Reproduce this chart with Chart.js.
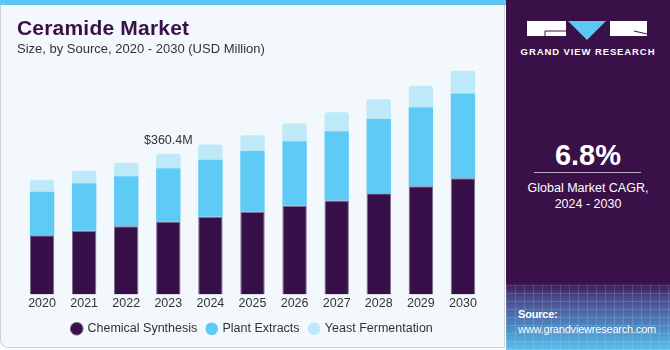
<!DOCTYPE html>
<html>
<head>
<meta charset="utf-8">
<script src="https://cdn.jsdelivr.net/npm/chart.js@4.4.0/dist/chart.umd.min.js"></script>
<style>
  body { margin: 0; width: 670px; height: 350px; overflow: hidden; font-family: "Liberation Sans", Arial, sans-serif; background: #fff; }
  #left { position: absolute; left: 0; top: 0; width: 505px; height: 348px; background: #f3f8fc; border: 1px solid #cfd3d6; border-top: none; border-radius: 0 0 0 8px; box-sizing: border-box; }
  #stripe { position: absolute; left: 0; top: 0; width: 506px; height: 5px; background: #5cc7f2; }
  #title { position: absolute; left: 17px; top: 16px; font-size: 21px; font-weight: bold; color: #3a1048; letter-spacing: 0.2px; }
  #subtitle { position: absolute; left: 17px; top: 41px; font-size: 13px; color: #333; }
  #chartBox { position: absolute; left: 0; top: 0; width: 506px; height: 350px; }
  #right { position: absolute; left: 506px; top: 0; width: 164px; height: 350px; background: linear-gradient(to bottom, #3a1048 0px, #3a1048 282px, #4a4585 296px, #4f8fc8 330px, #5cc0ee 350px); overflow: hidden; }
  #grid { position: absolute; left: 0; top: 284px; width: 164px; height: 66px; opacity: 0.18;
    background-image: repeating-linear-gradient(90deg, rgba(255,255,255,0.8) 0 1px, transparent 1px 9px), repeating-linear-gradient(0deg, rgba(255,255,255,0.8) 0 1px, transparent 1px 8px); }
  .rt { position: absolute; color: #fff; width: 164px; text-align: center; }
</style>
</head>
<body>
<div id="left"></div>
<div id="stripe"></div>
<div id="chartBox"><canvas id="chartCanvas" width="506" height="350"></canvas></div>
<div id="title">Ceramide Market</div>
<div id="subtitle">Size, by Source, 2020 - 2030 (USD Million)</div>

<div id="right">
  <div id="grid"></div>
  <svg style="position:absolute;left:0;top:0" width="164" height="60">
    <rect x="21" y="21" width="39" height="15" fill="#fff"/>
    <polyline points="60,31 39,31 39,36" fill="none" stroke="#3a1048" stroke-width="1"/>
    <polygon points="62,21 100,21 81,40" fill="#5cc7f2"/>
    <rect x="104" y="21" width="37" height="15" fill="#fff"/>
    <line x1="128" y1="31" x2="141" y2="34" stroke="#3a1048" stroke-width="1"/>
  </svg>
  <div class="rt" style="top:46px;font-size:9.5px;font-weight:bold;letter-spacing:0.9px;">GRAND VIEW RESEARCH</div>
  <div class="rt" style="top:139px;font-size:29px;font-weight:bold;">6.8%</div>
  <div style="position:absolute;left:28px;top:172px;width:107px;height:1px;background:#b9a8c4;"></div>
  <div class="rt" style="top:180px;font-size:12.5px;line-height:16px;">Global Market CAGR,<br>2024 - 2030</div>
  <div style="position:absolute;left:12px;top:307px;color:#fff;font-size:11px;line-height:15px;letter-spacing:-0.2px;"><b>Source:</b><br>www.grandviewresearch.com</div>
</div>

<script>
const years = ['2020', '2021', '2022', '2023', '2024', '2025', '2026', '2027', '2028', '2029', '2030'];
const chemicalSynthesis = [151.4, 163.3, 174.7, 186.5, 198.7, 211.6, 227.0, 240.7, 258.8, 276.8, 297.5];
const plantExtracts = [111.7, 121.3, 128.0, 136.7, 146.3, 155.6, 165.1, 177.2, 190.1, 202.3, 216.7];
const yeastFermentation = [30.2, 32.0, 34.6, 37.2, 38.7, 40.5, 45.7, 48.2, 50.8, 55.0, 58.6];
const labelYear = '2023';
const labelText = '$360.4M';

// texte au-dessus de la barre 2023
const totalLabel = {
  id: 'totalLabel',
  afterDatasetsDraw(chart) {
    const i = years.indexOf(labelYear);
    let total = 0;
    chart.data.datasets.forEach(d => { total += d.data[i]; });
    const x = chart.scales.x.getPixelForValue(i);
    const y = chart.scales.y.getPixelForValue(total);
    const ctx = chart.ctx;
    ctx.save();
    ctx.font = '12.5px "Liberation Sans", Arial, sans-serif';
    ctx.fillStyle = '#333';
    ctx.textAlign = 'center';
    ctx.textBaseline = 'bottom';
    ctx.fillText(labelText, x, y - 7);
    ctx.restore();
  }
};

document.addEventListener('DOMContentLoaded', function() {
  const data = {
    labels: years,
    datasets: [
      {
        label: 'Chemical Synthesis',
        data: chemicalSynthesis,
        backgroundColor: '#371049',
        borderColor: '#7d6a8c',
        borderWidth: 1
      },
      {
        label: 'Plant Extracts',
        data: plantExtracts,
        backgroundColor: '#5ecbf7',
        borderColor: '#5ecbf7',
        borderWidth: 0
      },
      {
        label: 'Yeast Fermentation',
        data: yeastFermentation,
        backgroundColor: '#bde9f9',
        borderColor: '#bde9f9',
        borderWidth: 0,
        borderRadius: { topLeft: 3, topRight: 3 },
        borderSkipped: 'bottom'
      }
    ]
  };

  const config = {
    type: 'bar',
    data: data,
    options: {
      responsive: false,
      animation: false,
      layout: { padding: { top: 60, left: 21, right: 22, bottom: 5 } },
      datasets: { bar: { categoryPercentage: 1.0, barPercentage: 0.58 } },
      scales: {
        x: {
          stacked: true,
          grid: { display: false, drawTicks: false },
          border: { display: false },
          ticks: { color: '#333', font: { size: 12.5, family: '"Liberation Sans", Arial, sans-serif' }, padding: 1.5, maxRotation: 0 }
        },
        y: {
          stacked: true,
          display: false,
          min: 0,
          max: 600
        }
      },
      plugins: {
        legend: {
          position: 'bottom',
          labels: {
            usePointStyle: true,
            pointStyle: 'circle',
            boxWidth: 9,
            boxHeight: 9,
            padding: 10,
            color: '#333',
            font: { size: 12.5, family: '"Liberation Sans", Arial, sans-serif' }
          }
        },
        tooltip: { enabled: false }
      }
    },
    plugins: [totalLabel]
  };

  new Chart(document.getElementById('chartCanvas'), config);
});
</script>
</body>
</html>
